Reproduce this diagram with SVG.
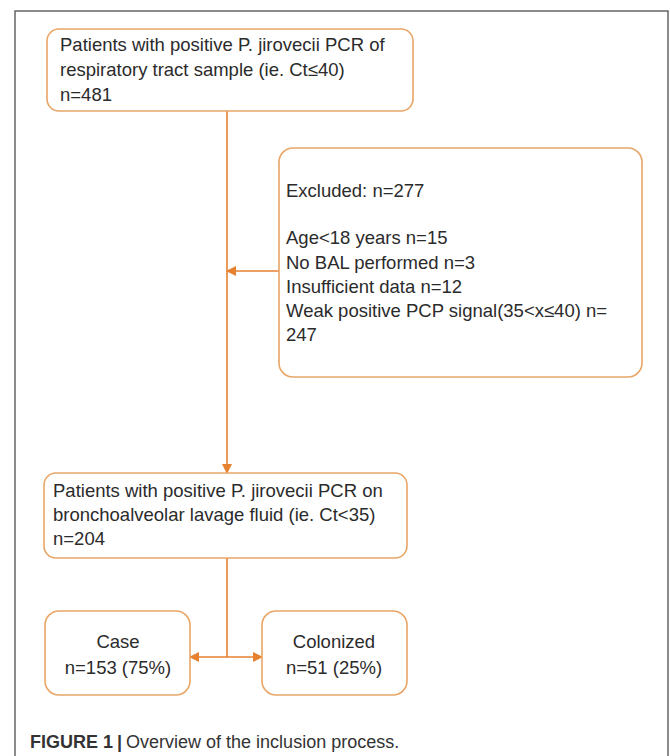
<svg xmlns="http://www.w3.org/2000/svg" width="670" height="756" viewBox="0 0 670 756">
<defs>
<style>
.box{fill:#fff;stroke:#E9A565;stroke-width:1.6}
.conn{stroke:#E6812F;stroke-width:1.6;fill:none}
.t{font-family:"Liberation Sans",Arial,sans-serif;font-size:18.5px;fill:#2b2b2b}
.tc{font-family:"Liberation Sans",Arial,sans-serif;font-size:18.5px;fill:#2b2b2b;text-anchor:middle}
.cap{font-family:"Liberation Sans",Arial,sans-serif;font-size:18px;fill:#333}
</style>
<marker id="ah" viewBox="0 0 10 10" refX="9" refY="5" markerWidth="10" markerHeight="10" markerUnits="userSpaceOnUse" orient="auto-start-reverse">
<path d="M0,0 L10,5 L0,10 Z" fill="#E6812F"/>
</marker>
</defs>
<rect width="670" height="756" fill="#fff"/>
<path d="M15,756 V11 H668 V756" fill="none" stroke="#666" stroke-width="1.5"/>
<g id="connectors">
<line class="conn" x1="227" y1="111" x2="227" y2="473" marker-end="url(#ah)"/>
<line class="conn" x1="279" y1="271" x2="227" y2="271" marker-end="url(#ah)"/>
<line class="conn" x1="227" y1="558" x2="227" y2="657"/>
<line class="conn" x1="190" y1="657" x2="262" y2="657" marker-start="url(#ah)" marker-end="url(#ah)"/>
</g>
<g id="n1">
<rect class="box" x="47" y="29" width="366" height="82" rx="12"/>
<text class="t" x="60" y="51">Patients with positive P. jirovecii PCR of</text>
<text class="t" x="60" y="76">respiratory tract sample (ie. Ct≤40)</text>
<text class="t" x="60" y="101">n=481</text>
</g>
<g id="excluded">
<rect class="box" x="279" y="148" width="363" height="229" rx="14"/>
<text class="t" x="286" y="197">Excluded: n=277</text>
<text class="t" x="286" y="244">Age&lt;18 years n=15</text>
<text class="t" x="286" y="269">No BAL performed n=3</text>
<text class="t" x="286" y="293">Insufficient data n=12</text>
<text class="t" x="286" y="317">Weak positive PCP signal(35&lt;x≤40) n=</text>
<text class="t" x="286" y="341">247</text>
</g>
<g id="n2">
<rect class="box" x="44" y="473" width="363" height="85" rx="12"/>
<text class="t" x="53" y="497">Patients with positive P. jirovecii PCR on</text>
<text class="t" x="53" y="521">bronchoalveolar lavage fluid (ie. Ct&lt;35)</text>
<text class="t" x="53" y="545">n=204</text>
</g>
<g id="case">
<rect class="box" x="45" y="611" width="145" height="84" rx="14"/>
<text class="tc" x="118" y="648">Case</text>
<text class="tc" x="118" y="674">n=153 (75%)</text>
</g>
<g id="colonized">
<rect class="box" x="262" y="611" width="145" height="84" rx="14"/>
<text class="tc" x="334" y="648">Colonized</text>
<text class="tc" x="334" y="674">n=51 (25%)</text>
</g>
<text class="cap" x="30" y="748"><tspan font-weight="bold">FIGURE 1</tspan><tspan font-weight="bold" dx="4">|</tspan><tspan dx="4">Overview of the inclusion process.</tspan></text>
</svg>
